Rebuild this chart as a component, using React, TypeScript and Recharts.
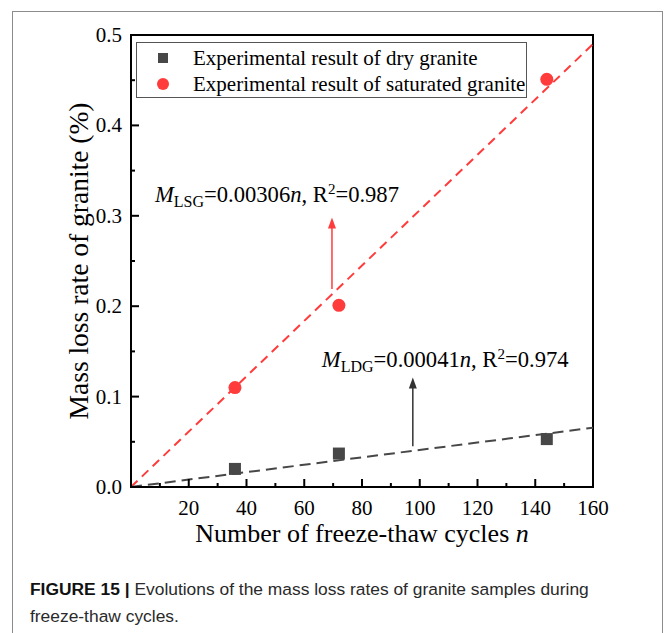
import React from 'react'
import {
  ComposedChart,
  Line,
  Scatter,
  XAxis,
  YAxis,
  Legend,
  ReferenceArea,
  ReferenceLine,
  ReferenceDot,
} from 'recharts'

// measured freeze-thaw cycles
const CYCLES = [36, 72, 144]
// mass loss rate (%) of dry granite
const DRY_LOSS = [0.02, 0.037, 0.053]
// mass loss rate (%) of saturated granite
const SAT_LOSS = [0.11, 0.201, 0.451]

// linear fit lines (ends of the dashed lines)
const FIT_CYCLES = [0, 160]
const FIT_DRY = [0, 0.0656]
const FIT_SAT = [0, 0.49]

const X_TICKS = [0, 10, 20, 30, 40, 50, 60, 70, 80, 90, 100, 110, 120, 130, 140, 150, 160]
const Y_TICKS = [0, 0.05, 0.1, 0.15, 0.2, 0.25, 0.3, 0.35, 0.4, 0.45, 0.5]

const SERIES_NAMES = ['Experimental result of dry granite', 'Experimental result of saturated granite']

const dryData = CYCLES.map((n, i) => ({ n, v: DRY_LOSS[i] }))
const satData = CYCLES.map((n, i) => ({ n, v: SAT_LOSS[i] }))
const dryFit = FIT_CYCLES.map((n, i) => ({ n, v: FIT_DRY[i] }))
const satFit = FIT_CYCLES.map((n, i) => ({ n, v: FIT_SAT[i] }))

const SERIF = '"Liberation Serif", "Times New Roman", serif'
const RED = '#ff3b3b'
const GREY = '#474747'

const XTick = (props: any) => {
  const { x, y, payload } = props
  const v = payload.value
  const major = v % 20 === 0
  return (
    <g>
      <line x1={x} x2={x} y1={y} y2={y - (major ? 8 : 4)} stroke="#000" strokeWidth={2} />
      {major && v !== 0 && (
        <text x={x} y={y + 28} textAnchor="middle" fontFamily={SERIF} fontSize={21} fill="#000">
          {v}
        </text>
      )}
    </g>
  )
}

const YTick = (props: any) => {
  const { x, y, payload } = props
  const v = payload.value
  const major = Math.round(v * 100) % 10 === 0
  return (
    <g>
      <line x1={x} x2={x + (major ? 8 : 4)} y1={y} y2={y} stroke="#000" strokeWidth={2} />
      {major && (
        <text x={x - 9} y={y + 7} textAnchor="end" fontFamily={SERIF} fontSize={21} fill="#000">
          {v.toFixed(1)}
        </text>
      )}
    </g>
  )
}

const Arrow = (color: string) => (p: any) => {
  const { x1, y1, x2, y2 } = p
  return (
    <g>
      <line x1={x1} y1={y1} x2={x2} y2={y2 + 8} stroke={color} strokeWidth={1.5} />
      <polygon points={`${x2},${y2} ${x2 - 4},${y2 + 11} ${x2 + 4},${y2 + 11}`} fill={color} />
    </g>
  )
}

const Equation = (sub: string, coef: string, r2: string) => (p: any) => (
  <text x={p.cx} y={p.cy} fontFamily={SERIF} fontSize={22.6} fill="#000">
    <tspan fontStyle="italic">M</tspan>
    <tspan fontSize={16} dy={5}>{sub}</tspan>
    <tspan dy={-5}>={coef}</tspan>
    <tspan fontStyle="italic">n</tspan>
    <tspan>, R</tspan>
    <tspan fontSize={15} dy={-8}>2</tspan>
    <tspan dy={8}>={r2}</tspan>
  </text>
)

const renderLegend = () => (
  <div
    style={{
      border: '1px solid #555',
      background: '#fff',
      width: 391,
      height: 56,
      boxSizing: 'border-box',
      fontFamily: SERIF,
      fontSize: 21,
      paddingTop: 2,
    }}
  >
    {SERIES_NAMES.map((name, i) => (
      <div key={name} style={{ display: 'flex', alignItems: 'center', height: 26 }}>
        <svg width={56} height={20}>
          {i === 0 ? (
            <rect x={21} y={5} width={10} height={10} fill={GREY} />
          ) : (
            <circle cx={26} cy={10} r={6} fill={RED} />
          )}
        </svg>
        <span>{name}</span>
      </div>
    ))}
  </div>
)

export default function App() {
  return (
    <div style={{ position: 'absolute', left: 0, top: 0, width: 665, height: 633, background: '#fff' }}>
      <div
        style={{
          position: 'absolute',
          left: 12,
          top: 11,
          width: 649,
          height: 640,
          borderLeft: '1px solid #8c8c8c',
          borderTop: '1px solid #8c8c8c',
          borderRight: '1px solid #8c8c8c',
        }}
      />
      <div style={{ position: 'absolute', left: 0, top: 0 }}>
        <ComposedChart width={665} height={560} margin={{ top: 35, right: 72, bottom: 72, left: 130 }}>
          <XAxis
            type="number"
            dataKey="n"
            domain={[0, 160]}
            ticks={X_TICKS}
            interval={0}
            allowDataOverflow
            height={1}
            tickSize={0}
            tickMargin={0}
            tickLine={false}
            tick={<XTick />}
            axisLine={{ stroke: '#000', strokeWidth: 2 }}
            label={{
              content: (p: any) => (
                <text
                  x={p.viewBox.x + p.viewBox.width / 2}
                  y={p.viewBox.y + 55}
                  textAnchor="middle"
                  fontFamily={SERIF}
                  fontSize={26}
                  fill="#000"
                >
                  Number of freeze-thaw cycles <tspan fontStyle="italic">n</tspan>
                </text>
              ),
            }}
          />
          <YAxis
            type="number"
            dataKey="v"
            domain={[0, 0.5]}
            ticks={Y_TICKS}
            interval={0}
            allowDataOverflow
            width={1}
            tickSize={0}
            tickMargin={0}
            tickLine={false}
            tick={<YTick />}
            axisLine={{ stroke: '#000', strokeWidth: 2 }}
            label={{
              content: (p: any) => {
                const cx = p.viewBox.x + p.viewBox.width - 53
                const cy = p.viewBox.y + p.viewBox.height / 2
                return (
                  <text
                    x={cx}
                    y={cy}
                    transform={`rotate(-90 ${cx} ${cy})`}
                    textAnchor="middle"
                    dominantBaseline="central"
                    fontFamily={SERIF}
                    fontSize={27.5}
                    fill="#000"
                  >
                    Mass loss rate of granite (%)
                  </text>
                )
              },
            }}
          />
          <ReferenceArea x1={0} x2={160} y1={0} y2={0.5} fill="none" stroke="#000" strokeWidth={2} ifOverflow="visible" />
          <Line
            data={satFit}
            dataKey="v"
            stroke={RED}
            strokeWidth={2}
            strokeDasharray="9 6"
            dot={false}
            activeDot={false}
            isAnimationActive={false}
            legendType="none"
          />
          <Line
            data={dryFit}
            dataKey="v"
            stroke={GREY}
            strokeWidth={2}
            strokeDasharray="11 6"
            dot={false}
            activeDot={false}
            isAnimationActive={false}
            legendType="none"
          />
          <Scatter
            name={SERIES_NAMES[0]}
            data={dryData}
            dataKey="v"
            fill={GREY}
            isAnimationActive={false}
            shape={(p: any) => <rect x={p.cx - 6} y={p.cy - 6} width={12} height={12} fill={GREY} />}
          />
          <Scatter
            name={SERIES_NAMES[1]}
            data={satData}
            dataKey="v"
            fill={RED}
            isAnimationActive={false}
            shape={(p: any) => <circle cx={p.cx} cy={p.cy} r={6.5} fill={RED} />}
          />
          <ReferenceLine
            segment={[{ x: 69.6, y: 0.219 }, { x: 69.6, y: 0.298 }]}
            ifOverflow="visible"
            shape={Arrow(RED)}
          />
          <ReferenceLine
            segment={[{ x: 97.6, y: 0.045 }, { x: 97.6, y: 0.121 }]}
            ifOverflow="visible"
            shape={Arrow('#333')}
          />
          <ReferenceDot x={8.3} y={0.315} r={0} ifOverflow="visible" shape={Equation('LSG', '0.00306', '0.987')} />
          <ReferenceDot x={66.1} y={0.133} r={0} ifOverflow="visible" shape={Equation('LDG', '0.00041', '0.974')} />
          <Legend
            layout="vertical"
            align="center"
            verticalAlign="middle"
            content={renderLegend}
            wrapperStyle={{ left: 136, top: 42, width: 391, height: 56 }}
          />
        </ComposedChart>
      </div>
      <div
        style={{
          position: 'absolute',
          left: 30,
          top: 576,
          fontFamily: '"Liberation Sans", Arial, sans-serif',
          fontSize: 17.4,
          lineHeight: '27px',
          color: '#2a2a2a',
          whiteSpace: 'nowrap',
        }}
      >
        <div>
          <b style={{ color: '#111' }}>FIGURE 15 |</b> Evolutions of the mass loss rates of granite samples during
        </div>
        <div>freeze-thaw cycles.</div>
      </div>
    </div>
  )
}
